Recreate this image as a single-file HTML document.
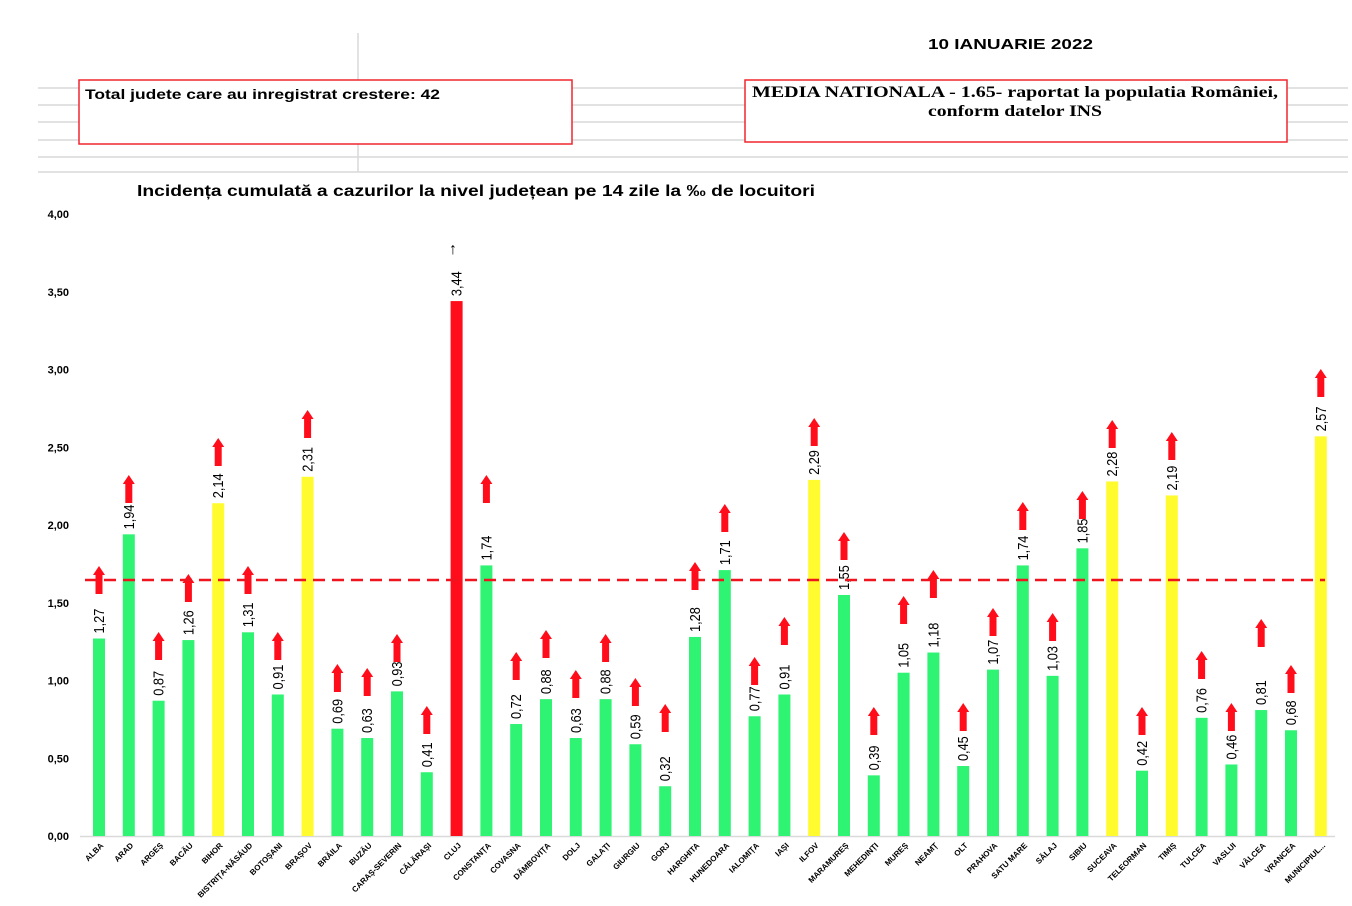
<!DOCTYPE html>
<html><head><meta charset="utf-8"><style>
html,body{margin:0;padding:0;background:#fff;}
svg{display:block;font-family:"Liberation Sans",sans-serif;}
</style></head><body>
<svg width="1352" height="906" viewBox="0 0 1352 906" xmlns="http://www.w3.org/2000/svg" id="s">
<g stroke="#d9d9d9" stroke-width="1.5">
<line x1="38" y1="88" x2="1348" y2="88"/><line x1="38" y1="105" x2="1348" y2="105"/>
<line x1="38" y1="122" x2="1348" y2="122"/><line x1="38" y1="140" x2="1348" y2="140"/>
<line x1="38" y1="157" x2="1348" y2="157"/><line x1="38" y1="172" x2="1348" y2="172"/>
<line x1="358" y1="33" x2="358" y2="172"/>
</g>
<text x="928" y="49" font-size="15" font-weight="bold" textLength="165" lengthAdjust="spacingAndGlyphs">10 IANUARIE 2022</text>
<rect x="79" y="80" width="493" height="64" fill="#fff" stroke="#f0262f" stroke-width="1.5"/>
<text x="85" y="99" font-size="14" font-weight="bold" textLength="355" lengthAdjust="spacingAndGlyphs">Total judete care au inregistrat crestere: 42</text>
<rect x="745" y="80" width="542" height="62" fill="#fff" stroke="#f0262f" stroke-width="1.5"/>
<text x="752" y="97" font-size="16" font-weight="bold" font-family="Liberation Serif,serif" textLength="526" lengthAdjust="spacingAndGlyphs">MEDIA NATIONALA - 1.65-  raportat la populatia României,</text>
<text x="928" y="116" font-size="16" font-weight="bold" font-family="Liberation Serif,serif" textLength="174" lengthAdjust="spacingAndGlyphs">conform datelor INS</text>
<text x="137" y="196" font-size="16" font-weight="bold" textLength="678" lengthAdjust="spacingAndGlyphs">Incidența cumulată a cazurilor la nivel județean pe 14 zile la ‰ de locuitori</text>
<g font-size="11" font-weight="bold" text-anchor="end" id="yt"></g>
<line x1="80" y1="836.5" x2="1335" y2="836.5" stroke="#d9d9d9" stroke-width="1.5"/>
<g id="bars"></g>
<line x1="85" y1="580" x2="1325" y2="580" stroke="#f0141e" stroke-width="2.5" stroke-dasharray="12,7"/>
<text x="453" y="254" font-size="16" text-anchor="middle" transform="rotate(0)">↑</text>
</svg>
<script>
var ns="http://www.w3.org/2000/svg";
function el(p,t,a,txt){var e=document.createElementNS(ns,t);for(var k in a)e.setAttribute(k,a[k]);if(txt!=null)e.textContent=txt;p.appendChild(e);return e;}
var yt=document.getElementById("yt");
for(var i=0;i<=8;i++){var v=i*0.5;var y=836-v*155.5;el(yt,"text",{x:69,y:y+4},v.toFixed(2).replace(".",","));}
var d=[["ALBA",1.27,"g",566],["ARAD",1.94,"g",475],["ARGEȘ",0.87,"g",632],["BACĂU",1.26,"g",574],["BIHOR",2.14,"y",438],["BISTRIȚA-NĂSĂUD",1.31,"g",566],["BOTOȘANI",0.91,"g",632],["BRAȘOV",2.31,"y",410],["BRĂILA",0.69,"g",664],["BUZĂU",0.63,"g",668],["CARAȘ-SEVERIN",0.93,"g",634],["CĂLĂRAȘI",0.41,"g",706],["CLUJ",3.44,"r",0],["CONSTANȚA",1.74,"g",475],["COVASNA",0.72,"g",652],["DÂMBOVIȚA",0.88,"g",630],["DOLJ",0.63,"g",670],["GALAȚI",0.88,"g",634],["GIURGIU",0.59,"g",678],["GORJ",0.32,"g",704],["HARGHITA",1.28,"g",562],["HUNEDOARA",1.71,"g",504],["IALOMIȚA",0.77,"g",657],["IAȘI",0.91,"g",617],["ILFOV",2.29,"y",418],["MARAMUREȘ",1.55,"g",532],["MEHEDINȚI",0.39,"g",707],["MUREȘ",1.05,"g",596],["NEAMȚ",1.18,"g",570],["OLT",0.45,"g",703],["PRAHOVA",1.07,"g",608],["SATU MARE",1.74,"g",502],["SĂLAJ",1.03,"g",613],["SIBIU",1.85,"g",491],["SUCEAVA",2.28,"y",420],["TELEORMAN",0.42,"g",707],["TIMIȘ",2.19,"y",432],["TULCEA",0.76,"g",651],["VASLUI",0.46,"g",703],["VÂLCEA",0.81,"g",619],["VRANCEA",0.68,"g",665],["MUNICIPIUL...",2.57,"y",369]];
var col={g:"#2ef373",y:"#fffb2e",r:"#ff0d1a"};
var g=document.getElementById("bars");
d.forEach(function(b,i){
 var x=99+i*29.8;var top=836-b[1]*155.5;
 el(g,"rect",{x:x-6,y:top,width:12,height:836-top,fill:col[b[2]]});
 var lab=b[1].toFixed(2).replace(".",",");
 el(g,"text",{x:0,y:0,"font-size":"15","text-anchor":"start",transform:"translate("+(x+5)+","+(top-5)+") rotate(-90) scale(0.85,1)"},lab);
 if(b[3]){var a=b[3];el(g,"polygon",{points:(x-6)+","+(a+9)+" "+x+","+a+" "+(x+6)+","+(a+9)+" "+(x+3.5)+","+(a+9)+" "+(x+3.5)+","+(a+28)+" "+(x-3.5)+","+(a+28)+" "+(x-3.5)+","+(a+9),fill:"#ff0d1a"});}
 el(g,"text",{x:0,y:0,"font-size":"8","font-weight":"bold","text-anchor":"end",transform:"translate("+(x+5)+",846) rotate(-45)"},b[0]);
});
</script>
</body></html>
